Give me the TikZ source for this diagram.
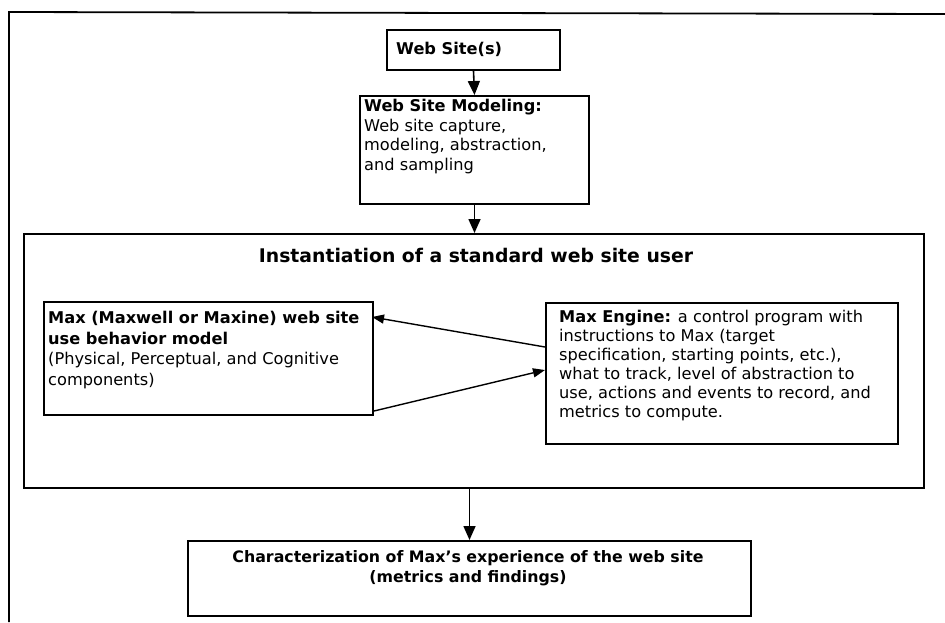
\documentclass[tikz,border=0pt]{standalone}
\usepackage{fontspec}
\setmainfont{DejaVu Sans}
\usetikzlibrary{arrows.meta,calc}
\tikzset{
  box/.style={draw, line width=2pt, inner sep=0pt, anchor=north west},
  txt/.style={inner sep=0pt, align=left, font=\fontsize{16.2}{19.5}\selectfont},
  flow/.style={line width=1.6pt, -{Triangle[width=12pt,length=14pt]}},
  side/.style={line width=1.4pt, -{Triangle[width=9pt,length=12pt]}},
}
\begin{document}
\begin{tikzpicture}[x=1pt,y=-1pt]
  \useasboundingbox (0,0) rectangle (945,622);

  % open frame along the top and left edges
  \coordinate (fl) at (9,622);
  \coordinate (fc) at (9,12);
  \coordinate (fr) at (945,14);
  \draw[line width=1.8pt] (fl) -- (fc) -- (fr);

  % boxes
  \node[box, minimum width=173pt, minimum height=40pt] (ws) at (386,29) {};
  \node[box, minimum width=229pt, minimum height=108pt] (wsm) at (359,95) {};
  \node[box, minimum width=900pt, minimum height=254pt] (inst) at (23,233) {};
  \node[box, minimum width=329pt, minimum height=113pt] (max) at (43,301) {};
  \node[box, minimum width=352pt, minimum height=141pt] (eng) at (545,302) {};
  \node[box, minimum width=563pt, minimum height=75pt] (out) at (187,540) {};

  % texts
  \node[txt, anchor=west] (wst) at (396,49) {\bfseries Web Site(s)};
  \node[txt, anchor=north west] (wsmt) at (364,99)
    {\textbf{Web Site Modeling:}\\Web site capture,\\modeling, abstraction,\\and sampling};
  \node[txt, font=\fontsize{18.8}{22}\selectfont\bfseries] (instt) at (476,255)
    {Instantiation of a standard web site user};
  \node[txt, anchor=north west, font=\fontsize{16.2}{20.5}\selectfont] (maxt) at (48,311)
    {\textbf{Max (Maxwell or Maxine) web site}\\\textbf{use behavior model}\\(Physical, Perceptual, and Cognitive\\components)};
  \node[txt, anchor=north west, font=\fontsize{16.2}{19}\selectfont] (engt) at (559,310)
    {\textbf{Max Engine:} a control program with\\instructions to Max (target\\specification, starting points, etc.),\\what to track, level of abstraction to\\use, actions and events to record, and\\metrics to compute.};
  \node[txt, anchor=north, align=center, font=\fontsize{15.8}{20.5}\selectfont\bfseries] (outt) at (468,550)
    {Characterization of Max{\char"0027}s experience of the web site\\(metrics and findings)};

  % connectors
  \draw[flow] (ws.south) -- (wsm.north);
  \draw[flow] (wsm.south) -- (wsm.south |- inst.north);
  \draw[flow] (inst.south -| out.north) -- (out.north);
  \draw[side] ($(eng.north west)+(0,45)$) -- ($(max.north east)+(-2,16)$);
  \draw[side] ($(max.south east)+(0,-5)$) -- ($(eng.north west)+(0,68)$);
\end{tikzpicture}
\end{document}
